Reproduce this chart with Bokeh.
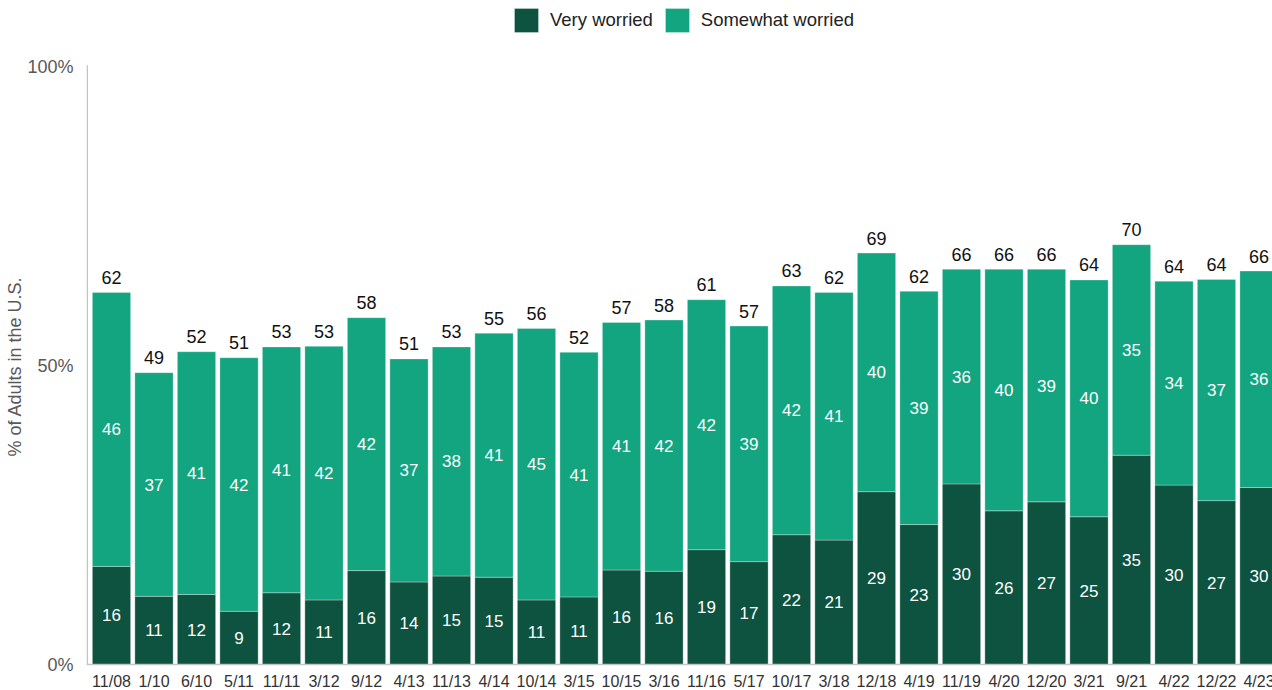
from bokeh.plotting import figure
from bokeh.models import (Range1d, FixedTicker, Legend, LegendItem, Span, Title,
                          ColumnDataSource)
from bokeh.core.properties import value
from bokeh.embed import file_html
from bokeh.resources import INLINE

dates = ["11/08", "1/10", "6/10", "5/11", "11/11", "3/12", "9/12", "4/13", "11/13",
         "4/14", "10/14", "3/15", "10/15", "3/16", "11/16", "5/17", "10/17", "3/18",
         "12/18", "4/19", "11/19", "4/20", "12/20", "3/21", "9/21", "4/22", "12/22", "4/23"]
very_worried = [16.4, 11.4, 11.7, 8.9, 12.0, 10.8, 15.7, 13.8, 14.8, 14.6, 10.8, 11.3,
                15.8, 15.6, 19.2, 17.2, 21.7, 20.8, 28.9, 23.4, 30.2, 25.7, 27.2, 24.7,
                35.0, 30.0, 27.4, 29.6]
somewhat_worried = [45.8, 37.4, 40.6, 42.4, 41.1, 42.4, 42.3, 37.3, 38.3, 40.8, 45.4, 40.9,
                    41.4, 42.0, 41.8, 39.4, 41.6, 41.4, 39.9, 39.0, 35.9, 40.4, 38.9, 39.6,
                    35.2, 34.1, 37.0, 36.2]
y_ticks = [0, 50, 100]
y_tick_labels = ["0%", "50%", "100%"]

DARK = "#0E5240"
LIGHT = "#13A480"
AXIS = "#c4c4c4"
FONT = "Liberation Sans"

W, H = 1272, 690
LEFT = 86            # frame left edge (px)
Y0_PX, Y100_PX = 664, 66   # pixel rows of 0% and 100%
ppu = (Y0_PX - Y100_PX) / 100.0
y_start = -(H - Y0_PX) / ppu
y_end = 100 + Y100_PX / ppu
step, first_c = 42.5, 111.0
x_start = (LEFT - first_c) / step
x_end = (W - first_c) / step

xs = list(range(len(dates)))
total = [v + s for v, s in zip(very_worried, somewhat_worried)]
src = ColumnDataSource(dict(
    x=xs, date=dates, very=very_worried, some=somewhat_worried, total=total,
    very_mid=[v / 2 for v in very_worried],
    some_mid=[v + s / 2 for v, s in zip(very_worried, somewhat_worried)],
    very_lbl=[str(round(v)) for v in very_worried],
    some_lbl=[str(round(s)) for s in somewhat_worried],
    tot_lbl=[str(round(t)) for t in total],
    xlab_y=[y_start + 0.05] * len(dates),
))

p = figure(width=W, height=H, output_backend="svg", toolbar_location=None,
           x_range=Range1d(x_start, x_end), y_range=Range1d(y_start, y_end),
           min_border_left=LEFT, min_border_right=0, min_border_top=0,
           min_border_bottom=0, outline_line_color=None)
p.grid.visible = False
p.xaxis.visible = False

r = p.vbar_stack(["very", "some"], x="x", width=0.9, source=src,
                 color=[DARK, LIGHT], line_color="white", line_width=0.6,
                 line_alpha=0.5)

# axis lines
p.add_layout(Span(location=0, dimension="width", line_color=AXIS, line_width=1.5))
ax_x = x_start + 0.75 / step
p.segment(x0=[ax_x], y0=[0], x1=[ax_x], y1=[100.2], line_color=AXIS, line_width=1.5)

# labels inside bars
p.text(x="x", y="very_mid", text="very_lbl", source=src, text_align="center",
       text_baseline="middle", text_color="white", text_font_size="17px",
       text_font=value(FONT))
p.text(x="x", y="some_mid", text="some_lbl", source=src, text_align="center",
       text_baseline="middle", text_color="white", text_font_size="17px",
       text_font=value(FONT))
p.text(x="x", y="total", text="tot_lbl", source=src, text_align="center",
       text_baseline="alphabetic", y_offset=-15, text_color="#111111",
       text_font_size="18px", text_font=value(FONT))

# category labels under the bars
p.text(x="x", y="xlab_y", text="date", source=src, text_align="center",
       text_baseline="alphabetic", y_offset=-9, text_color="#333333",
       text_font_size="16px", text_font=value(FONT))

# y axis
p.yaxis.ticker = FixedTicker(ticks=y_ticks)
p.yaxis.major_label_overrides = {t: l for t, l in zip(y_ticks, y_tick_labels)}
p.yaxis.axis_line_color = None
p.yaxis.major_tick_line_color = None
p.yaxis.minor_tick_line_color = None
p.yaxis.major_label_text_font_size = "18px"
p.yaxis.major_label_text_font = FONT
p.yaxis.major_label_text_color = "#595959"
p.yaxis.major_label_standoff = 7

ytitle = Title(text="% of Adults in the U.S.", align="left", offset=234,
               text_font=FONT, text_font_size="18px", text_font_style="normal",
               text_color="#595959", standoff=0)
p.add_layout(ytitle, "left")

legend = Legend(items=[LegendItem(label="Very worried", renderers=[r[0]]),
                       LegendItem(label="Somewhat worried", renderers=[r[1]])],
                orientation="horizontal", location=(511 - LEFT, H - 35),
                glyph_width=30, glyph_height=30, label_height=30,
                label_standoff=9, spacing=9, padding=0, margin=0,
                label_text_font=FONT, label_text_font_size="18.5px",
                label_text_color="#222222", border_line_alpha=0,
                background_fill_alpha=0)
p.add_layout(legend)

open("out.html", "w").write(file_html(p, INLINE))
